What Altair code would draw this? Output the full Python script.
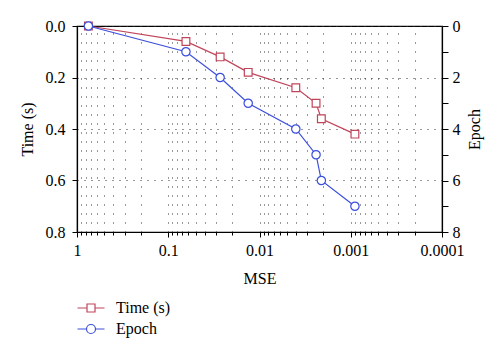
import altair as alt
import pandas as pd

mse = [0.75, 0.064, 0.027, 0.0133, 0.0040, 0.0024, 0.0021, 0.0009]
time_s = [0.0, 0.06, 0.12, 0.18, 0.24, 0.30, 0.36, 0.42]
epoch = [0, 1, 2, 3, 4, 5, 6, 7]
series = ["Time (s)", "Epoch"]
colors = ["#c0455a", "#3c50dc"]

x_ticks = [k * 10.0 ** e for e in range(-4, 1) for k in range(1, 10) if k * 10.0 ** e <= 1.0000001]
y_ticks = [round(i * 0.1, 1) for i in range(9)]
e_ticks = list(range(9))

df_t = pd.DataFrame({"MSE": mse, "val": time_s, "series": series[0]})
df_e = pd.DataFrame({"MSE": mse, "val": epoch, "series": series[1]})

FONT = "Liberation Serif"
FS = 16
decade_test = "abs(log(datum.value)/LN10 - round(log(datum.value)/LN10)) < 1e-6"

sq_path = "M-1.35,0H-0.4M0.4,0H1.35M-0.4,-0.4H0.4V0.4H-0.4Z"
ci_path = "M-1.35,0H-0.45M0.45,0H1.35M-0.45,0A0.45,0.45 0 1,0 0.45,0A0.45,0.45 0 1,0 -0.45,0Z"

xscale = alt.Scale(type="log", domain=[0.0001, 1], reverse=True, nice=False)
cscale = alt.Scale(domain=series, range=colors)

common_axis = dict(
    labelFont=FONT, titleFont=FONT, labelFontSize=FS, titleFontSize=FS,
    titleFontWeight="normal", labelColor="black", titleColor="black",
)

x_enc = alt.X(
    "MSE:Q",
    scale=xscale,
    axis=alt.Axis(
        title="MSE",
        values=x_ticks,
        labelExpr=f"({decade_test}) ? format(datum.value, '~g') : ''",
        tickSize={"condition": {"test": decade_test, "value": 5}, "value": 3},
        grid=True,
        gridDash=[1, 8],
        gridColor="#333333",
        gridWidth=1,
        labelPadding=5,
        titlePadding=12,
        **common_axis,
    ),
)

legend_spec = alt.Legend(
    orient="none",
    legendX=3,
    legendY=271,
    title=None,
    symbolSize=400,
    symbolStrokeWidth=1.2,
    symbolFillColor="white",
    symbolOpacity=1,
    labelFont=FONT,
    labelFontSize=FS,
    labelColor="black",
    labelOffset=14,
    rowPadding=2,
)

y_time = alt.Y(
    "val:Q",
    scale=alt.Scale(domain=[0, 0.8], reverse=True, nice=False),
    axis=alt.Axis(
        title="Time (s)",
        orient="left",
        values=y_ticks,
        labelExpr="(round(datum.value*10) % 2 == 0) ? format(datum.value, '.1f') : ''",
        tickSize=5,
        grid=True,
        gridDash=[1, 6],
        gridColor="#333333",
        labelPadding=7,
        titleX=-50,
        titleY=103,
        titleAngle=270,
        titleAlign="center",
        titleBaseline="middle",
        **common_axis,
    ),
)

time_layer = alt.Chart(df_t).mark_line(
    strokeWidth=1.2,
    color=colors[0],
    point=alt.OverlayMarkDef(shape="square", filled=False, fill="white", stroke=colors[0],
                             size=60, strokeWidth=1.2, opacity=1),
).encode(x=x_enc, y=y_time)

legend_layer = alt.Chart(df_t).mark_point(opacity=0, size=1).encode(
    x=alt.X("MSE:Q", scale=xscale),
    y=alt.Y("val:Q"),
    color=alt.Color("series:N", scale=cscale, legend=legend_spec),
    shape=alt.Shape("series:N", scale=alt.Scale(domain=series, range=[sq_path, ci_path]), legend=legend_spec),
)

left_group = alt.layer(legend_layer, time_layer)

epoch_layer = alt.Chart(df_e).mark_line(
    strokeWidth=1.2,
    color=colors[1],
    point=alt.OverlayMarkDef(shape="circle", filled=False, fill="white", stroke=colors[1],
                             size=70, strokeWidth=1.2, opacity=1),
).encode(
    x=alt.X("MSE:Q", scale=xscale),
    y=alt.Y(
        "val:Q",
        scale=alt.Scale(domain=[0, 8], reverse=True, nice=False),
        axis=alt.Axis(
            title="Epoch",
            orient="right",
            values=e_ticks,
            labelExpr="(datum.value % 2 == 0) ? format(datum.value, 'd') : ''",
            tickSize=6,
            grid=False,
            labelPadding=4,
            titleX=32,
            titleY=103,
            titleAngle=270,
            titleAlign="center",
            titleBaseline="middle",
            **common_axis,
        ),
    ),
)

chart = alt.layer(left_group, epoch_layer).resolve_scale(y="independent").properties(
    width=365,
    height=206,
    background="white",
    autosize=alt.AutoSizeParams(type="none"),
    padding={"left": 77, "top": 26, "right": 58, "bottom": 123},
).configure(
    font=FONT
).configure_view(
    stroke="black", strokeWidth=1.2
).configure_axis(
    labelFont=FONT,
    titleFont=FONT,
    domainColor="black",
    tickColor="black",
    domainWidth=1.2,
    labelFlush=False,
    labelOverlap=False,
)

chart.save("out.html", embed_options={"renderer": "svg", "actions": False})
